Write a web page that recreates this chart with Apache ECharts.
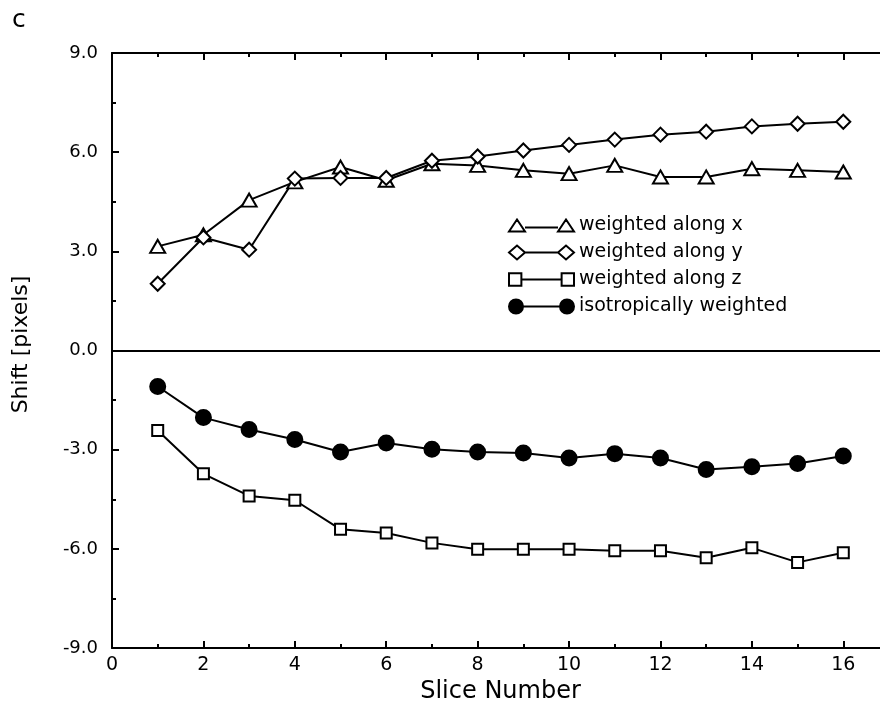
<!DOCTYPE html>
<html>
<head>
<meta charset="utf-8">
<script src="https://cdn.jsdelivr.net/npm/echarts@6/dist/echarts.min.js"></script>
<style>
html,body{margin:0;padding:0;background:#fff;}
#chart{width:880px;height:705px;}
</style>
</head>
<body>
<div id="chart"></div>
<script>
var slices = [1,2,3,4,5,6,7,8,9,10,11,12,13,14,15,16];
var weightedX = [3.15, 3.5, 4.55, 5.1, 5.55, 5.15, 5.65, 5.6, 5.45, 5.35, 5.6, 5.25, 5.25, 5.5, 5.45, 5.4];
var weightedY = [2.02, 3.42, 3.05, 5.2, 5.22, 5.22, 5.74, 5.87, 6.05, 6.22, 6.38, 6.53, 6.62, 6.78, 6.86, 6.92];
var weightedZ = [-2.42, -3.73, -4.4, -4.53, -5.41, -5.52, -5.82, -6.01, -6.01, -6.01, -6.06, -6.06, -6.27, -5.97, -6.41, -6.12];
var isotropic = [-1.09, -2.03, -2.39, -2.69, -3.07, -2.8, -2.99, -3.07, -3.1, -3.25, -3.12, -3.25, -3.6, -3.52, -3.42, -3.19];
var seriesNames = ['weighted along x', 'weighted along y', 'weighted along z', 'isotropically weighted'];

function pairs(vals){ return slices.map(function(s,i){ return [s, vals[i]]; }); }

var FONT = '"DejaVu Sans", sans-serif';
var chart = echarts.init(document.getElementById('chart'), null, {renderer:'canvas'});

var legendIcons = [
  'path://M0 12 L8 0 L16 12 Z M16 8 L49 8 M49 12 L57 0 L65 12 Z',
  'path://M0 7 L8 0 L16 7 L8 14 Z M16 7 L49 7 M49 7 L57 0 L65 7 L57 14 Z',
  'path://M1 1 L13 1 L13 13 L1 13 Z M13 7 L52 7 M52 1 L64 1 L64 13 L52 13 Z',
  'path://M0 7 A7 7 0 1 0 14 7 A7 7 0 1 0 0 7 Z M14 7 L51 7 M51 7 A7 7 0 1 0 65 7 A7 7 0 1 0 51 7 Z'
];

function mkSeries(name, vals, symbol, size, fill){
  return {
    name: name, type: 'line', data: pairs(vals),
    symbol: symbol, symbolSize: size, showSymbol: true,
    lineStyle: {color:'#000', width:2},
    itemStyle: {color: fill, borderColor:'#000', borderWidth:2},
    emphasis: {disabled:true},
    animation: false
  };
}

var s0 = mkSeries(seriesNames[0], weightedX, 'triangle', [15,13], '#fff');
var s1 = mkSeries(seriesNames[1], weightedY, 'diamond', 14, '#fff');
var s2 = mkSeries(seriesNames[2], weightedZ, 'rect', 11, '#fff');
var s3 = mkSeries(seriesNames[3], isotropic, 'circle', 15, '#000');
s3.markLine = {
  silent: true, symbol: ['none','none'], label:{show:false},
  lineStyle:{color:'#000', width:2, type:'solid'},
  data: [{yAxis: 0}], animation:false
};

var axisCommonX = {
  type:'value', min:0, max:17, interval:2,
  axisLine:{show:true, onZero:false, lineStyle:{color:'#000', width:2}},
  axisTick:{show:true, inside:true, length:7, lineStyle:{color:'#000', width:2}},
  minorTick:{show:true, splitNumber:2, length:4, lineStyle:{color:'#000', width:2}},
  splitLine:{show:false}
};
var axisCommonY = {
  type:'value', min:-9, max:9, interval:3,
  axisLine:{show:true, onZero:false, lineStyle:{color:'#000', width:2}},
  axisTick:{show:true, inside:true, length:7, lineStyle:{color:'#000', width:2}},
  minorTick:{show:true, splitNumber:2, length:4, lineStyle:{color:'#000', width:2}},
  splitLine:{show:false}
};

var option = {
  backgroundColor:'#fff',
  animation:false,
  grid:{left:112, top:53, width:777, height:595, containLabel:false, outerBoundsMode:'none'},
  graphic:[{type:'text', x:12, y:20, style:{text:'c', font:'25px '+FONT, fill:'#000', verticalAlign:'middle'}}],
  legend:{
    orient:'vertical', left:503, top:211, itemWidth:65, itemHeight:14, itemGap:8,
    selectedMode:false,
    textStyle:{fontFamily:FONT, fontSize:19, color:'#000'},
    data: seriesNames.map(function(n,i){
      return {name:n, icon:legendIcons[i],
        itemStyle:{color: i===3 ? '#000' : '#fff', borderColor:'#000', borderWidth:2}};
    })
  },
  xAxis:[
    Object.assign({}, axisCommonX, {
      position:'bottom',
      name:'Slice Number', nameLocation:'middle', nameGap:27,
      nameTextStyle:{fontFamily:FONT, fontSize:24, color:'#000'},
      axisLabel:{show:true, margin:8, fontFamily:FONT, fontSize:19, color:'#000', showMaxLabel:false}
    }),
    Object.assign({}, axisCommonX, {position:'top', axisLabel:{show:false}})
  ],
  yAxis:[
    Object.assign({}, axisCommonY, {
      position:'left',
      name:'Shift [pixels]', nameLocation:'middle', nameGap:80,
      nameTextStyle:{fontFamily:FONT, fontSize:22, color:'#000', padding:[0,0,0,12]},
      axisLabel:{show:true, margin:14, fontFamily:FONT, fontSize:18, color:'#000',
        formatter:function(v){ return v.toFixed(1); }}
    }),
    Object.assign({}, axisCommonY, {position:'right', axisLabel:{show:false}})
  ],
  series:[s0, s1, s2, s3]
};
chart.setOption(option);
</script>
</body>
</html>
